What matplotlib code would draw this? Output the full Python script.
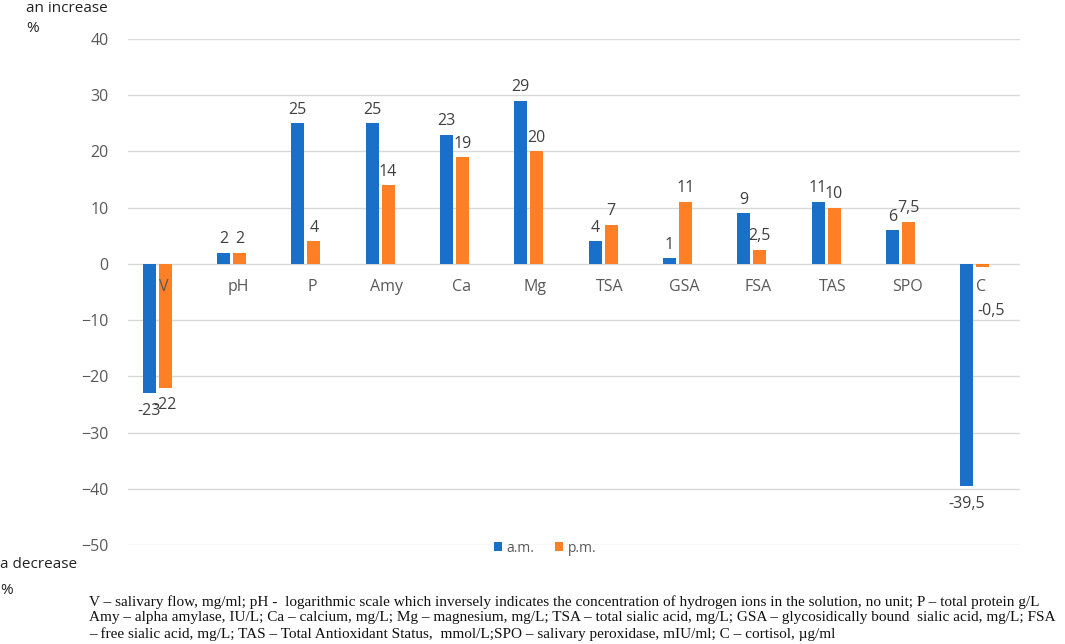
import matplotlib.pyplot as plt
import numpy as np

categories = ['V', 'pH', 'P', 'Amy', 'Ca', 'Mg', 'TSA', 'GSA', 'FSA', 'TAS', 'SPO', 'C']
am = [-23, 2, 25, 25, 23, 29, 4, 1, 9, 11, 6, -39.5]
pm = [-22, 2, 4, 14, 19, 20, 7, 11, 2.5, 10, 7.5, -0.5]
yticks = [-50, -40, -30, -20, -10, 0, 10, 20, 30, 40]

footnote = ("V \u2013 salivary flow, mg/ml; pH -  logarithmic scale which inversely indicates the concentration of hydrogen ions in the solution, no unit; P \u2013 total protein g/L\n"
            "Amy \u2013 alpha amylase, IU/L; Ca \u2013 calcium, mg/L; Mg \u2013 magnesium, mg/L; TSA \u2013 total sialic acid, mg/L; GSA \u2013 glycosidically bound  sialic acid, mg/L; FSA\n"
            "\u2013 free sialic acid, mg/L; TAS \u2013 Total Antioxidant Status,  mmol/L;SPO \u2013 salivary peroxidase, mIU/ml; C \u2013 cortisol, \u00b5g/ml")

blue = '#1a6fc8'
orange = '#ff7f27'
txt = '#595959'
plt.rcParams['font.family'] = ['Open Sans', 'DejaVu Sans']

W, H = 1065, 644
fig = plt.figure(figsize=(W / 100, H / 100), dpi=100)
ax = fig.add_axes([128 / W, 1 - 545 / H, 892 / W, (545 - 39) / H])

x = np.arange(len(categories))
bw = 13 / 74.3
shift = 16 / 74.3
b1 = ax.bar(x - shift, am, bw, color=blue, label='a.m.', zorder=3)
b2 = ax.bar(x, pm, bw, color=orange, label='p.m.', zorder=3)

def fmt(v):
    return f'{v:g}'.replace('.', ',')

# value labels outside the bar end
for bars, vals in ((b1, am), (b2, pm)):
    for r, v in zip(bars, vals):
        cx = r.get_x() + r.get_width() / 2
        if v >= 0:
            ax.annotate(fmt(v), (cx, v), xytext=(0, 4), textcoords='offset points',
                        ha='center', va='bottom', fontsize=11.5, color='#404040')
        else:
            off = -7 if v < -5 else -26
            dx = 0 if v < -5 else 6
            ax.annotate(fmt(v), (cx, v), xytext=(dx, off), textcoords='offset points',
                        ha='center', va='top', fontsize=11.5, color='#404040')

# category names just under the zero line
for i, c in enumerate(categories):
    ax.annotate(c, (i, 0), xytext=(-1, -17), textcoords='offset points',
                ha='center', va='center', fontsize=11.5, color=txt)

ax.set_xlim(-0.5, len(categories) - 0.5)
ax.set_ylim(-50, 40)
ax.set_yticks(yticks)
ax.set_xticks([])
ax.tick_params(axis='y', length=0, pad=14, labelsize=11.5, labelcolor=txt)
ax.grid(axis='y', color='#d9d9d9', linewidth=1, zorder=0)
for s in ax.spines.values():
    s.set_visible(False)

ax.legend(loc='center', bbox_to_anchor=(545 / W, 1 - 548 / H), bbox_transform=fig.transFigure,
          ncol=2, frameon=False, fontsize=10, labelcolor=txt, handlelength=0.6, handleheight=0.6,
          handletextpad=0.3, columnspacing=1.5)

fig.text(26 / W, 1 - 9 / H, 'an increase', fontsize=11, va='center', color='#222222')
fig.text(26 / W, 1 - 29 / H, '%', fontsize=11, va='center', color='#222222')
fig.text(0, 1 - 565 / H, 'a decrease', fontsize=11, va='center', color='#222222')
fig.text(0, 1 - 590 / H, '%', fontsize=11, va='center', color='#222222')

fig.text(89 / W, 1 - 595 / H, footnote, fontsize=11, va='top', ha='left',
         family=['Liberation Serif', 'DejaVu Serif'], linespacing=1.25, color='#111111')

fig.savefig('out.png', dpi=100)
